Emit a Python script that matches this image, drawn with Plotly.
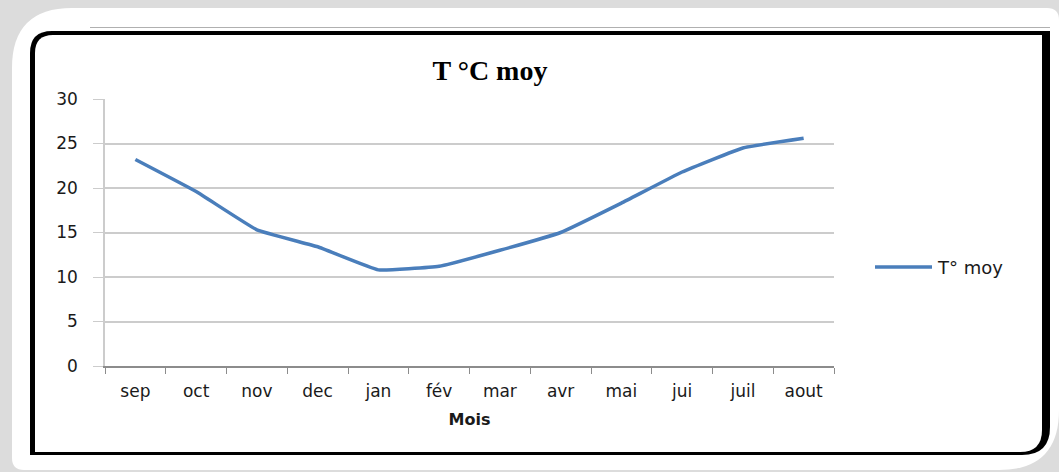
import plotly.graph_objects as go

months = ["sep", "oct", "nov", "dec", "jan", "fév", "mar", "avr", "mai", "jui", "juil", "aout"]
t_moy = [23.2, 19.6, 15.3, 13.4, 10.8, 11.2, 13.0, 15.0, 18.3, 21.8, 24.5, 25.6]
y_ticks = [0, 5, 10, 15, 20, 25, 30]
series_name = "T° moy"

W, H = 1059, 472
L, R, T, B = 105, 834, 99, 366
LINE_COLOR = "#4a7ebb"


def px(x):
    return (x - L) / (R - L)


def py(y):
    return (B - y) / (B - T)


def rounded_path(x0, y0, x1, y1, r_tl=0, r_tr=0, r_br=0, r_bl=0):
    p = f"M {px(x0 + r_tl)} {py(y0)} L {px(x1 - r_tr)} {py(y0)} "
    if r_tr:
        p += f"Q {px(x1)} {py(y0)} {px(x1)} {py(y0 + r_tr)} "
    p += f"L {px(x1)} {py(y1 - r_br)} "
    if r_br:
        p += f"Q {px(x1)} {py(y1)} {px(x1 - r_br)} {py(y1)} "
    p += f"L {px(x0 + r_bl)} {py(y1)} "
    if r_bl:
        p += f"Q {px(x0)} {py(y1)} {px(x0)} {py(y1 - r_bl)} "
    p += f"L {px(x0)} {py(y0 + r_tl)} "
    if r_tl:
        p += f"Q {px(x0)} {py(y0)} {px(x0 + r_tl)} {py(y0)} "
    return p + "Z"


fig = go.Figure()
fig.add_trace(go.Scatter(
    x=months, y=t_moy, mode="lines", name=series_name, showlegend=False,
    line=dict(color=LINE_COLOR, width=3.5, shape="spline", smoothing=0.3),
))

shapes = [
    # white rounded card
    dict(type="path", xref="paper", yref="paper", layer="below",
         path=rounded_path(12, 8, 1059, 470, r_tl=60, r_tr=12, r_br=60, r_bl=12),
         fillcolor="white", line=dict(width=0)),
    # thin grey line above the frame
    dict(type="line", xref="paper", yref="paper", layer="below",
         x0=px(90), x1=px(1050), y0=py(27.5), y1=py(27.5),
         line=dict(color="#b0b0b0", width=1)),
    # black frame
    dict(type="path", xref="paper", yref="paper", layer="below",
         path=rounded_path(30, 31, 1050, 455, r_tl=22, r_br=28),
         fillcolor="black", line=dict(width=0)),
    dict(type="path", xref="paper", yref="paper", layer="below",
         path=rounded_path(35, 35, 1042, 452, r_tl=18, r_br=22),
         fillcolor="white", line=dict(width=0)),
    # legend line sample
    dict(type="line", xref="paper", yref="paper",
         x0=px(875), x1=px(932), y0=py(267), y1=py(267),
         line=dict(color=LINE_COLOR, width=3.5)),
]

annotations = [
    dict(text=series_name, xref="paper", yref="paper", x=px(935), y=py(267),
         xanchor="left", yanchor="middle", showarrow=False,
         font=dict(family="DejaVu Sans", size=18, color="#1a1a1a")),
]

fig.update_layout(
    width=W, height=H, autosize=False,
    margin=dict(l=L, r=W - R, t=T, b=H - B, pad=0),
    paper_bgcolor="#dcdcdc",
    plot_bgcolor="rgba(0,0,0,0)",
    shapes=shapes,
    annotations=annotations,
    font=dict(family="DejaVu Sans", size=16, color="#1a1a1a"),
    title=dict(text="<b>T °C moy</b>", x=490 / W, xanchor="center",
               y=1 - 70 / H, yanchor="middle", yref="container",
               font=dict(family="Liberation Serif", size=28, color="black")),
    showlegend=False,
    xaxis=dict(
        type="category", categoryorder="array", categoryarray=months,
        range=[-0.5, 11.5], showgrid=False, zeroline=False,
        showline=True, linecolor="#8c8c8c", linewidth=1.5,
        ticks="outside", tickson="boundaries", ticklen=6, tickcolor="#8c8c8c",
        tickfont=dict(size=17), ticklabelstandoff=9,
        title=dict(text="<b>Mois</b>", font=dict(size=16, color="#1a1a1a"), standoff=14),
    ),
    yaxis=dict(
        range=[0, 30], tickvals=y_ticks, showgrid=True, gridcolor="#cccccc",
        gridwidth=1.5, zeroline=False, showline=True, linecolor="#cccccc",
        linewidth=1.5, ticks="outside", ticklen=10, tickcolor="#cccccc",
        tickfont=dict(size=17), ticklabelstandoff=12,
    ),
)

fig.write_html(
    "out.html",
    config={"displayModeBar": False},
    post_script="document.body.style.margin='0';document.body.style.background='#dcdcdc';",
)
